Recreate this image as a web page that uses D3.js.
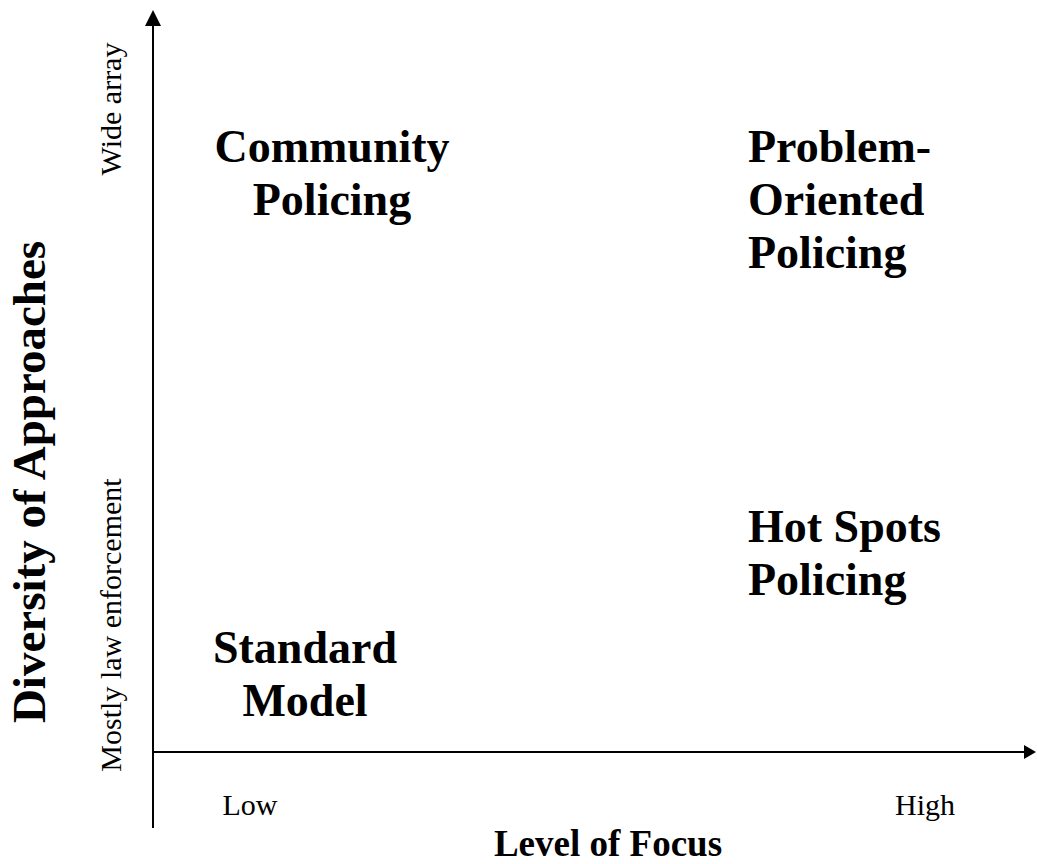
<!DOCTYPE html>
<html>
<head>
<meta charset="utf-8">
<script src="https://cdn.jsdelivr.net/npm/d3@7"></script>
<style>
  html, body { margin: 0; padding: 0; background: #fff; }
  svg { display: block; }
  text { font-family: "Liberation Serif", "Times New Roman", serif; fill: #000; }
</style>
</head>
<body>
<svg id="chart" width="1037" height="864"></svg>
<script>
// ---- data ----
const focusLevels = ["Low", "High"];
const diversityLevels = ["Mostly law enforcement", "Wide array"];
const quadrantNames = [
  ["Community", "Policing"],
  ["Problem-", "Oriented", "Policing"],
  ["Standard", "Model"],
  ["Hot Spots", "Policing"]
];
const quadrantFocus = ["Low", "High", "Low", "High"];
const quadrantDiversity = ["Wide array", "Wide array", "Mostly law enforcement", "Mostly law enforcement"];
const xTitle = "Level of Focus";
const yTitle = "Diversity of Approaches";

// ---- layout ----
const originX = 153, originY = 752;
const svg = d3.select("#chart");

const x = d3.scaleLinear().domain([0, 1]).range([originX, 1036]);
const y = d3.scaleLinear().domain([0, 1]).range([originY, 10]);

// category scales
const fx = d3.scalePoint().domain(focusLevels).range([250, 925]);
const fy = d3.scalePoint().domain(diversityLevels).range([625, 109]);

// axes lines
svg.append("line")
  .attr("x1", x(0)).attr("x2", x(1) - 10)
  .attr("y1", y(0)).attr("y2", y(0))
  .attr("stroke", "#000").attr("stroke-width", 2);
svg.append("line")
  .attr("x1", x(0)).attr("x2", x(0))
  .attr("y1", 828).attr("y2", y(1) + 10)
  .attr("stroke", "#000").attr("stroke-width", 2);

// arrowheads
svg.append("path")
  .attr("d", `M${x(1)},${y(0)} L${x(1) - 12},${y(0) - 7} L${x(1) - 12},${y(0) + 7} Z`)
  .attr("fill", "#000");
svg.append("path")
  .attr("d", `M${x(0)},${y(1)} L${x(0) - 8},${y(1) + 16} L${x(0) + 8},${y(1) + 16} Z`)
  .attr("fill", "#000");

// x tick labels
svg.selectAll("text.xtick").data(focusLevels).join("text")
  .attr("class", "xtick")
  .attr("x", d => fx(d)).attr("y", 815)
  .attr("text-anchor", "middle")
  .style("font-size", "30px")
  .text(d => d);

// y tick labels (rotated)
svg.selectAll("text.ytick").data(diversityLevels).join("text")
  .attr("class", "ytick")
  .attr("transform", d => `translate(121,${fy(d)}) rotate(-90)`)
  .attr("text-anchor", "middle")
  .style("font-size", "30px")
  .text(d => d);

// axis titles
svg.append("text")
  .attr("x", 608).attr("y", 856)
  .attr("text-anchor", "middle")
  .style("font-size", "37px").style("font-weight", "bold")
  .text(xTitle);
svg.append("text")
  .attr("transform", `translate(45,482) rotate(-90)`)
  .attr("text-anchor", "middle")
  .style("font-size", "47px").style("font-weight", "bold")
  .text(yTitle);

// quadrant labels
const colAnchor = { "Low": "middle", "High": "start" };
const lineH = 53;

quadrantNames.forEach((lines, i) => {
  const f = quadrantFocus[i], dv = quadrantDiversity[i];
  let xx, yy;
  if (f === "Low") {
    xx = dv === "Wide array" ? fx(f) + 82 : fx(f) + 55;
  } else {
    xx = fx(f) - 177;
  }
  if (dv === "Wide array") yy = fy(dv) + 53;
  else yy = f === "Low" ? fy(dv) + 38 : fy(dv) - 83;
  const t = svg.append("text")
    .attr("text-anchor", colAnchor[f])
    .style("font-size", "46px").style("font-weight", "bold");
  lines.forEach((ln, j) => {
    t.append("tspan").attr("x", xx).attr("y", yy + j * lineH).text(ln);
  });
});
</script>
</body>
</html>
